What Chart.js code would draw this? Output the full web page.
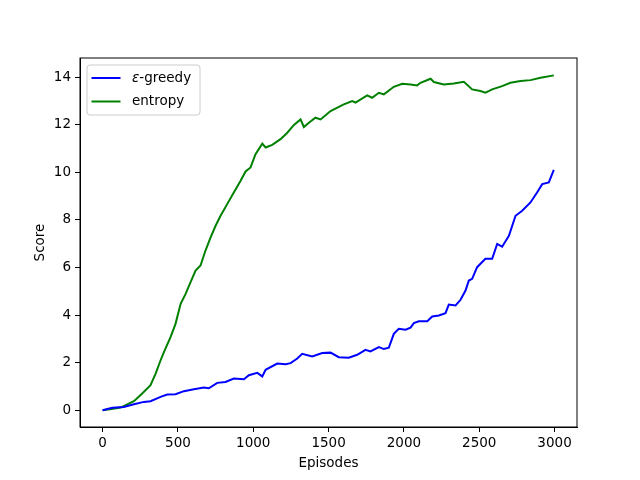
<!DOCTYPE html>
<html>
<head>
<meta charset="utf-8">
<script src="https://cdn.jsdelivr.net/npm/chart.js@4/dist/chart.umd.min.js"></script>
<style>
  html, body { margin: 0; padding: 0; background: #fff; }
  #wrap { width: 640px; height: 480px; }
</style>
</head>
<body>
<div id="wrap"><canvas id="scoreChart" width="640" height="480"></canvas></div>
<script>
// values
const greedyEpisodes = [0, 64, 141, 208, 274, 318, 385, 429, 484, 540, 606, 672, 705, 761, 816, 871, 938, 971, 1027, 1060, 1082, 1159, 1215, 1248, 1292, 1325, 1391, 1458, 1513, 1568, 1634, 1690, 1745, 1778, 1834, 1867, 1900, 1933, 1966, 2011, 2044, 2066, 2099, 2155, 2188, 2232, 2276, 2298, 2343, 2376, 2409, 2431, 2453, 2486, 2541, 2586, 2619, 2652, 2697, 2741, 2785, 2840, 2884, 2918, 2962, 2995];
const greedyScores = [0, 0.10, 0.14, 0.25, 0.35, 0.38, 0.56, 0.66, 0.67, 0.80, 0.88, 0.95, 0.92, 1.15, 1.19, 1.33, 1.30, 1.47, 1.57, 1.42, 1.70, 1.96, 1.93, 1.98, 2.17, 2.37, 2.26, 2.40, 2.42, 2.23, 2.21, 2.33, 2.54, 2.47, 2.65, 2.57, 2.63, 3.21, 3.42, 3.38, 3.47, 3.66, 3.74, 3.74, 3.94, 3.98, 4.08, 4.44, 4.40, 4.64, 5.03, 5.45, 5.52, 6.01, 6.36, 6.36, 6.99, 6.87, 7.33, 8.17, 8.38, 8.73, 9.15, 9.50, 9.57, 10.10];

const entropyEpisodes = [0, 60, 119, 208, 263, 318, 352, 385, 407, 451, 484, 518, 551, 584, 617, 650, 683, 717, 750, 783, 827, 871, 916, 949, 982, 1015, 1060, 1082, 1126, 1181, 1226, 1270, 1314, 1336, 1369, 1413, 1447, 1513, 1601, 1657, 1679, 1756, 1789, 1834, 1867, 1933, 1989, 2044, 2088, 2110, 2177, 2199, 2265, 2331, 2398, 2453, 2508, 2541, 2586, 2652, 2707, 2774, 2840, 2907, 2995];
const entropyScores = [0, 0.05, 0.11, 0.38, 0.70, 1.05, 1.54, 2.10, 2.44, 3.07, 3.63, 4.47, 4.89, 5.38, 5.87, 6.08, 6.71, 7.26, 7.75, 8.17, 8.66, 9.15, 9.64, 10.03, 10.2, 10.76, 11.20, 11.04, 11.15, 11.39, 11.66, 11.99, 12.22, 11.9, 12.08, 12.29, 12.22, 12.57, 12.85, 12.99, 12.93, 13.23, 13.13, 13.34, 13.27, 13.59, 13.72, 13.69, 13.65, 13.76, 13.93, 13.79, 13.69, 13.73, 13.80, 13.48, 13.41, 13.34, 13.48, 13.62, 13.76, 13.83, 13.87, 13.97, 14.07];

const xTicks = [0, 500, 1000, 1500, 2000, 2500, 3000];
const yTicks = [0, 2, 4, 6, 8, 10, 12, 14];

const seriesNames = ['-greedy', 'entropy'];
const seriesColors = ['#0000ff', '#008000'];

function toPoints(xs, ys) {
    return xs.map((x, i) => ({x: x, y: ys[i]}));
}

Chart.defaults.font.family = 'DejaVu Sans';
Chart.defaults.font.size = 13.5;
Chart.defaults.color = '#000';

// matplotlib style legend box in the top left corner
const boxLegend = {
    id: 'boxLegend',
    afterDraw(chart) {
        const ctx = chart.ctx;
        const a = chart.chartArea;
        const left = a.left + 7, top = a.top + 7;
        ctx.save();
        ctx.beginPath();
        ctx.roundRect(left, top, 113, 50, 3);
        ctx.fillStyle = 'rgba(255,255,255,0.8)';
        ctx.fill();
        ctx.strokeStyle = '#cccccc';
        ctx.lineWidth = 1;
        ctx.stroke();
        ctx.font = '13.5px "DejaVu Sans"';
        ctx.textBaseline = 'middle';
        seriesNames.forEach((name, i) => {
            const y = top + 13 + i * 23.5;
            ctx.beginPath();
            ctx.moveTo(left + 4.5, y);
            ctx.lineTo(left + 33.5, y);
            ctx.strokeStyle = seriesColors[i];
            ctx.lineWidth = 2;
            ctx.stroke();
            ctx.fillStyle = '#000';
            let tx = left + 45;
            if (i === 0) {
                ctx.font = 'italic 13.5px "DejaVu Sans"';
                ctx.fillText('\u03b5', tx, y);
                tx += ctx.measureText('\u03b5').width;
                ctx.font = '13.5px "DejaVu Sans"';
            }
            ctx.fillText(name, tx, y);
        });
        ctx.restore();
    }
};

new Chart(document.getElementById('scoreChart'), {
    type: 'line',
    data: {
        datasets: [
            {
                label: '\u03b5' + seriesNames[0],
                data: toPoints(greedyEpisodes, greedyScores),
                borderColor: seriesColors[0],
                borderWidth: 2,
                pointRadius: 0,
                tension: 0
            },
            {
                label: seriesNames[1],
                data: toPoints(entropyEpisodes, entropyScores),
                borderColor: seriesColors[1],
                borderWidth: 2,
                pointRadius: 0,
                tension: 0
            }
        ]
    },
    options: {
        responsive: false,
        animation: false,
        layout: {
            padding: {left: 32, right: 63, top: 58, bottom: 8}
        },
        plugins: {
            legend: {display: false},
            tooltip: {enabled: false}
        },
        scales: {
            x: {
                type: 'linear',
                min: -150,
                max: 3149,
                afterBuildTicks: s => { s.ticks = xTicks.map(v => ({value: v})); },
                afterFit: s => { s.height = 45; },
                grid: {drawOnChartArea: false, drawTicks: true, tickLength: 5, tickColor: '#000'},
                border: {color: '#000', width: 1},
                ticks: {padding: 3, maxRotation: 0, callback: v => String(v)},
                title: {display: true, text: 'Episodes', padding: {top: 2, bottom: 0}}
            },
            y: {
                type: 'linear',
                min: -0.705,
                max: 14.8,
                afterBuildTicks: s => { s.ticks = yTicks.map(v => ({value: v})); },
                afterFit: s => { s.width = 48; },
                grid: {drawOnChartArea: false, drawTicks: true, tickLength: 5, tickColor: '#000'},
                border: {color: '#000', width: 1},
                ticks: {padding: 4, callback: v => String(v)},
                title: {display: true, text: 'Score', padding: {top: 0, bottom: 0}}
            }
        }
    },
    plugins: [boxLegend, {
        id: 'frame',
        afterDraw(chart) {
            const a = chart.chartArea;
            const ctx = chart.ctx;
            ctx.save();
            ctx.strokeStyle = '#000';
            ctx.lineWidth = 1;
            ctx.strokeRect(a.left, a.top, a.right - a.left, a.bottom - a.top);
            ctx.restore();
        }
    }]
});
</script>
</body>
</html>
